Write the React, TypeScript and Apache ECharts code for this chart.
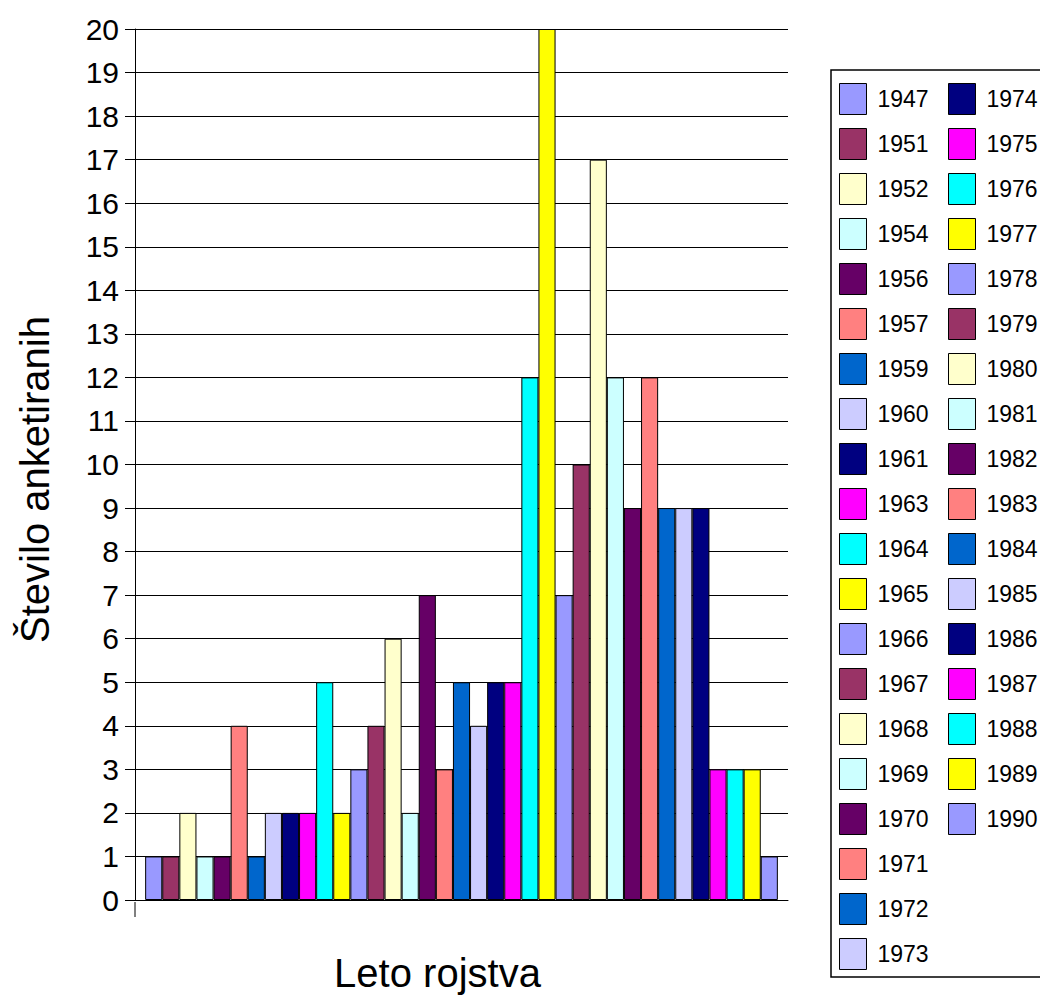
import React, { useEffect, useRef } from "react";
import * as echarts from "echarts";

const years: string[] = [
  "1947", "1951", "1952", "1954", "1956", "1957", "1959", "1960", "1961", "1963",
  "1964", "1965", "1966", "1967", "1968", "1969", "1970", "1971", "1972", "1973",
  "1974", "1975", "1976", "1977", "1978", "1979", "1980", "1981", "1982", "1983",
  "1984", "1985", "1986", "1987", "1988", "1989", "1990",
];
const counts: number[] = [
  1, 1, 2, 1, 1, 4, 1, 2, 2, 2,
  5, 2, 3, 4, 6, 2, 7, 3, 5, 4,
  5, 5, 12, 20, 7, 10, 17, 12, 9, 12,
  9, 9, 9, 3, 3, 3, 1,
];
const palette: string[] = [
  "#9999FF", "#993366", "#FFFFCC", "#CCFFFF", "#660066", "#FF8080",
  "#0066CC", "#CCCCFF", "#000080", "#FF00FF", "#00FFFF", "#FFFF00",
];
const categories: string[] = [""];
const yTicks = { min: 0, max: 20, interval: 1 };
const yName = "Število anketiranih";
const xName = "Leto rojstva";

export default function App() {
  const ref = useRef<HTMLDivElement>(null);
  useEffect(() => {
    if (!ref.current) return;
    const chart = echarts.init(ref.current, null, { renderer: "svg" });
    const font = "'Liberation Sans', Arial, sans-serif";
    const series = years.map((y, i) => ({
      name: y,
      type: "bar",
      data: [counts[i]],
      barWidth: 17.1,
      barGap: "0%",
      itemStyle: { color: palette[i % palette.length], borderColor: "#000", borderWidth: 1 },
    }));
    const legendCommon = {
      orient: "vertical",
      top: 83,
      itemWidth: 27,
      itemHeight: 31,
      itemGap: 13,
      padding: 0,
      icon: "rect",
      selectedMode: false,
      itemStyle: { borderColor: "#000", borderWidth: 1 },
      textStyle: { fontFamily: font, fontSize: 23, color: "#000", padding: [0, 0, 0, 6] },
    };
    chart.setOption({
      animation: false,
      backgroundColor: "#fff",
      grid: { left: 135, top: 29, right: 252, bottom: 96, containLabel: false },
      legend: [
        { ...legendCommon, left: 839, data: years.slice(0, 20) },
        { ...legendCommon, left: 948, data: years.slice(20) },
      ],
      xAxis: {
        type: "category",
        data: categories,
        name: xName,
        nameLocation: "middle",
        nameGap: 53,
        nameTextStyle: { fontFamily: font, fontSize: 40, color: "#000", padding: [0, 48, 0, 0] },
        axisLine: { show: true, lineStyle: { color: "#000", width: 1 } },
        axisTick: { show: false },
        axisLabel: { show: false },
      },
      yAxis: {
        type: "value",
        min: yTicks.min,
        max: yTicks.max,
        interval: yTicks.interval,
        name: yName,
        nameLocation: "middle",
        nameGap: 80,
        nameTextStyle: { fontFamily: font, fontSize: 40, color: "#000", padding: [0, 30, 0, 0] },
        axisLine: { show: true, lineStyle: { color: "#000", width: 1 } },
        axisTick: { show: true, length: 10, lineStyle: { color: "#000", width: 1 } },
        axisLabel: { fontFamily: font, fontSize: 30, color: "#000", margin: 16 },
        splitLine: { show: true, lineStyle: { color: "#000", width: 1 } },
      },
      graphic: [
        {
          type: "line",
          shape: { x1: 135, y1: 902, x2: 135, y2: 917 },
          style: { stroke: "#000", lineWidth: 1 },
        },
        {
          type: "rect",
          shape: { x: 831, y: 70, width: 220, height: 907 },
          style: { fill: "none", stroke: "#000", lineWidth: 1.5 },
        },
      ],
      series,
    });
    return () => chart.dispose();
  }, []);
  return (
    <div
      ref={ref}
      style={{ position: "fixed", left: 0, top: 0, width: 1040, height: 998 }}
    />
  );
}
